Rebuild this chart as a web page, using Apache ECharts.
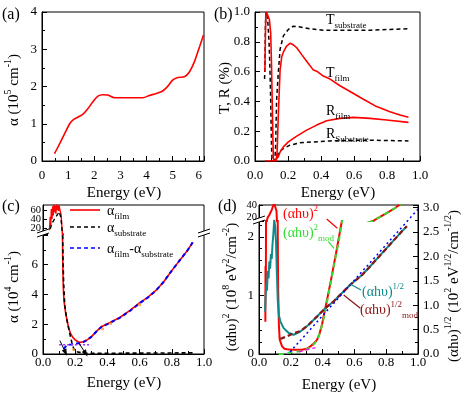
<!DOCTYPE html>
<html><head><meta charset="utf-8">
<script src="https://cdn.jsdelivr.net/npm/echarts@6/dist/echarts.min.js"></script>
<style>html,body{margin:0;padding:0;background:#fff}#c{width:463px;height:393px}</style>
</head><body><div id="c"></div>
<script>
const F = 'Liberation Serif';

// ---------- panel (a) ----------
const aEnergy = [0.48,0.68,0.87,1.06,1.18,1.38,1.57,1.76,1.95,2.14,2.33,2.52,2.78,3.1,3.48,3.86,4.11,4.37,4.62,4.82,5.0,5.2,5.45,5.64,5.83,6.03,6.18];
const aAlpha  = [0.2,0.47,0.74,1.0,1.1,1.18,1.26,1.41,1.59,1.74,1.78,1.77,1.70,1.70,1.70,1.70,1.76,1.81,1.88,2.01,2.17,2.24,2.26,2.39,2.66,3.07,3.38];

// ---------- panel (b) ----------
const bTfilm = [[0.06,0.6],[0.065,0.97],[0.07,1.0],[0.078,0.99],[0.087,0.95],[0.095,0.86],[0.1,0.65],[0.106,0.3],[0.111,0.02],[0.115,0],[0.128,0],[0.134,0.06],[0.141,0.3],[0.152,0.61],[0.162,0.7],[0.172,0.73],[0.19,0.77],[0.212,0.79],[0.232,0.78],[0.253,0.76],[0.283,0.714],[0.313,0.67],[0.354,0.61],[0.378,0.6],[0.414,0.57],[0.455,0.55],[0.515,0.505],[0.576,0.466],[0.657,0.414],[0.737,0.365],[0.818,0.331],[0.879,0.309],[0.93,0.293]];
const bRfilm = [[0.06,0],[0.1,0],[0.12,0.004],[0.13,0.01],[0.141,0.027],[0.152,0.06],[0.172,0.095],[0.202,0.128],[0.253,0.167],[0.313,0.207],[0.374,0.241],[0.434,0.27],[0.515,0.286],[0.596,0.293],[0.697,0.286],[0.798,0.275],[0.93,0.259]];
const bTsub = [[0.058,0.55],[0.06,0.63],[0.063,0.9],[0.067,1.0],[0.072,0.98],[0.078,0.93],[0.085,0.8],[0.09,0.64],[0.095,0.41],[0.1,0.1],[0.103,0.02],[0.105,0],[0.12,0],[0.125,0.1],[0.131,0.41],[0.141,0.59],[0.152,0.75],[0.172,0.84],[0.202,0.883],[0.232,0.905],[0.273,0.9],[0.333,0.887],[0.414,0.878],[0.556,0.878],[0.7,0.878],[0.82,0.883],[0.93,0.887]];
const bRsub = [[0.105,0],[0.12,0.005],[0.13,0.02],[0.141,0.05],[0.155,0.07],[0.172,0.083],[0.212,0.106],[0.273,0.122],[0.354,0.128],[0.455,0.135],[0.657,0.14],[0.93,0.135]];

// ---------- panel (c) ----------
const cFilm = [[0.04,15],[0.045,45],[0.048,25],[0.052,62],[0.056,40],[0.06,68],[0.064,48],[0.068,72],[0.072,55],[0.076,70],[0.08,52],[0.084,72],[0.088,60],[0.092,72],[0.096,58],[0.1,70],[0.104,62],[0.108,66],[0.112,50],[0.116,30],[0.12,9],[0.123,6],[0.126,4.5],[0.13,3.6],[0.14,2.8],[0.15,2.2],[0.16,1.75],[0.17,1.4],[0.185,1.12],[0.2,0.95],[0.215,0.84],[0.23,0.78],[0.25,0.82],[0.27,0.92],[0.3,1.15],[0.335,1.55],[0.366,1.85],[0.39,1.98],[0.417,2.12],[0.45,2.3],[0.479,2.47],[0.541,2.93],[0.593,3.38],[0.65,3.8],[0.7,4.25],[0.75,4.85],[0.8,5.6],[0.85,6.3],[0.9,7.0],[0.93,7.5]];
const cSubstrate = [[0.045,18],[0.05,24],[0.055,30],[0.06,28],[0.065,36],[0.07,40],[0.075,38],[0.08,45],[0.085,48],[0.09,50],[0.095,54],[0.1,56],[0.105,52],[0.11,45],[0.115,30],[0.12,10],[0.124,6.5],[0.128,4.8],[0.135,3.3],[0.145,2.5],[0.159,1.74],[0.17,1.2],[0.18,0.74],[0.19,0.4],[0.2,0.18],[0.21,0.06],[0.25,0.05],[0.4,0.05],[0.6,0.06],[0.8,0.07],[0.93,0.08]];
const cDiff = [[0.128,0.35],[0.14,0.5],[0.155,0.6],[0.17,0.63],[0.19,0.66],[0.21,0.7],[0.23,0.74],[0.25,0.8],[0.27,0.92],[0.3,1.15],[0.335,1.55],[0.366,1.85],[0.39,1.95],[0.417,2.1],[0.45,2.28],[0.479,2.45],[0.541,2.9],[0.593,3.35],[0.65,3.78],[0.7,4.25],[0.75,4.85],[0.8,5.6],[0.85,6.3],[0.9,7.0],[0.93,7.5]];
const cLevel = [[0.1,0.62],[0.3,0.62]];
const cOrange = [[0.19,0.3],[0.37,1.7],[0.42,2.05],[0.6,3.3]];
const cArrow1 = [[0.105,0.9],[0.14,0.1]];
const cArrow2 = [[0.225,0.7],[0.265,0.03]];
const cUpperTicks = [20,40,60];

// ---------- panel (d) ----------
const dSq = [[0.04,0.55],[0.041,1.5],[0.043,1.1],[0.045,3],[0.048,6],[0.05,14],[0.055,19],[0.06,21],[0.065,23],[0.07,26],[0.075,25],[0.08,32],[0.085,35],[0.09,40],[0.095,44],[0.1,46],[0.105,44],[0.11,30],[0.113,12],[0.116,3],[0.12,1.2],[0.125,0.5],[0.13,0.25],[0.145,0.13],[0.16,0.09],[0.176,0.08],[0.207,0.073],[0.27,0.073],[0.3,0.09],[0.323,0.13],[0.345,0.18],[0.365,0.24],[0.38,0.34],[0.396,0.5],[0.417,0.78],[0.438,1.06],[0.459,1.35],[0.49,1.8],[0.523,2.3],[0.56,3.2],[0.6,4.5],[0.65,7],[0.7,11],[0.72,13],[0.75,18],[0.8,26],[0.85,34],[0.88,40],[0.93,48]];
const dSqMod = [[0.124,0],[0.15,0],[0.207,0.03],[0.27,0.05],[0.3,0.08],[0.333,0.13],[0.355,0.2],[0.375,0.3],[0.392,0.45],[0.407,0.61],[0.428,0.9],[0.449,1.18],[0.47,1.5],[0.5,1.9],[0.525,2.3],[0.56,3.2],[0.6,4.5],[0.65,7],[0.7,11],[0.72,13],[0.75,18],[0.8,26],[0.85,34],[0.88,40],[0.93,48]];
const dTangent = [[0.25,0.035],[0.355,0.11]];
const dSqrt = [[0.038,0.87],[0.042,1.2],[0.046,1.45],[0.05,1.3],[0.055,1.7],[0.06,1.55],[0.065,1.9],[0.07,1.75],[0.075,2.05],[0.08,1.95],[0.085,2.25],[0.09,2.45],[0.096,2.75],[0.102,2.6],[0.107,2.3],[0.112,1.7],[0.118,1.1],[0.125,0.8],[0.134,0.67],[0.155,0.53],[0.187,0.43],[0.218,0.395],[0.26,0.46],[0.312,0.6],[0.365,0.77],[0.417,0.94],[0.47,1.08],[0.522,1.25],[0.574,1.42],[0.648,1.62],[0.7,1.8],[0.75,1.98],[0.8,2.16],[0.85,2.34],[0.9,2.52],[0.93,2.62]];
const dSqrtMod = [[0.134,0.31],[0.15,0.33],[0.176,0.36],[0.207,0.41],[0.218,0.42],[0.26,0.47],[0.312,0.6],[0.365,0.77],[0.417,0.94],[0.47,1.08],[0.522,1.25],[0.574,1.42],[0.648,1.62],[0.7,1.8],[0.75,1.98],[0.8,2.16],[0.85,2.34],[0.9,2.52],[0.93,2.62]];
const dFit = [[0.195,0.04],[1.0,2.97]];
const dUpperTicks = [20,40];

// ---------- helpers ----------
const zip = (xs, ys) => xs.map((x, i) => [x, ys[i]]);
const fmtStep = (step, dec, maxV) => v => {
  const k = v / step;
  if (Math.abs(k - Math.round(k)) > 1e-6 || v > maxV + 1e-9) return '';
  return dec ? v.toFixed(dec) : String(Math.round(v));
};
const BLK = {color:'#000', width:1};
function axis(gridIndex, min, max, interval, minorSplit, fmt, labelMargin, position) {
  return {
    type:'value', gridIndex, min, max, interval, position,
    splitLine:{show:false},
    axisLine:{show:true, onZero:false, lineStyle:BLK},
    axisTick:{show:true, inside:true, length:5, lineStyle:BLK},
    minorTick:{show:true, splitNumber:minorSplit, length:3, lineStyle:BLK},
    minorSplitLine:{show:false},
    axisLabel:{show:true, hideOverlap:false, color:'#000', fontFamily:F, fontSize:13, margin:labelMargin, formatter:fmt}
  };
}
// top part of a broken axis: ticks from the library, labels placed from the same scale below
function breakAxis(gridIndex, min, max, ticks, splitNumber) {
  return {
    type:'value', gridIndex, min, max, splitNumber,
    splitLine:{show:false},
    axisLine:{show:true, onZero:false, lineStyle:BLK},
    axisTick:{show:true, inside:true, length:4, lineStyle:BLK, customValues:ticks},
    minorTick:{show:false},
    axisLabel:{show:false}
  };
}
const hidden = (gridIndex) => ({type:'value', gridIndex, min:0, max:1, show:false});
const ln = (xi, yi, data, color, width, type, z) => ({
  type:'line', xAxisIndex:xi, yAxisIndex:yi, data, showSymbol:false, symbol:'none',
  lineStyle:{color, width, type: type || 'solid'}, clip:true, silent:true, z: z || 2, animation:false
});
// part of a curve that lies inside the noisy, broken-axis top region
const noisy = arr => arr.filter(p => p[0] <= 0.13);

const grids = [
  {left:42, top:12, width:162, height:149, show:true, borderColor:'#000', borderWidth:1, backgroundColor:'transparent'},
  {left:255, top:12, width:165, height:149, show:true, borderColor:'#000', borderWidth:1, backgroundColor:'transparent'},
  {left:43, top:205, width:161, height:29},
  {left:43, top:234, width:161, height:120},
  {left:43, top:205, width:161, height:149, show:true, borderColor:'#000', borderWidth:1, backgroundColor:'transparent'},
  {left:259, top:205, width:159, height:16},
  {left:259, top:221, width:159, height:133},
  {left:259, top:205, width:159, height:149, show:true, borderColor:'#000', borderWidth:1, backgroundColor:'transparent'}
].map(g => Object.assign({outerBoundsMode:'none', containLabel:false}, g));

const xAxes = [
  axis(0, 0, 6.2, 1, 2, fmtStep(1, 0, 6), 8),
  axis(1, 0, 1, 0.2, 2, fmtStep(0.2, 1, 1), 8),
  hidden(2),
  axis(3, 0, 1, 0.2, 2, fmtStep(0.2, 1, 1), 2),
  hidden(4),
  hidden(5),
  axis(6, 0, 1, 0.2, 2, fmtStep(0.2, 1, 1), 2),
  hidden(7)
];
const yAxes = [
  axis(0, 0, 4, 1, 2, fmtStep(1, 0, 4), 5),
  axis(1, 0, 1, 0.2, 2, fmtStep(0.2, 1, 1), 5),
  breakAxis(2, 6.7, 71.1, cUpperTicks, 3),
  axis(3, 0, 8.06, 2, 2, fmtStep(2, 0, 6), 5),
  hidden(4),
  breakAxis(5, 12.6, 40.5, dUpperTicks, 1),
  axis(6, 0, 2.27, 1, 5, fmtStep(1, 0, 2), 5),
  axis(7, 0, 3.055, 0.5, 2, fmtStep(0.5, 1, 3), 5, 'right')
];

const RED = '#ff0000', GREEN = '#33dd33', TEAL = '#0e8a8a', DRED = '#8b1414', BLUE = '#0000ff';
const series = [
  Object.assign(ln(0, 0, zip(aEnergy, aAlpha), RED, 1.6), {smooth:0.3}),
  ln(1, 1, bTsub, '#000', 1.5, [4, 3]),
  ln(1, 1, bRsub, '#000', 1.5, [4, 3]),
  ln(1, 1, bTfilm, RED, 1.6),
  ln(1, 1, bRfilm, RED, 1.6),
  // (c) upper (broken-axis part)
  ln(2, 2, noisy(cFilm), RED, 1.4),
  ln(2, 2, noisy(cSubstrate), '#000', 1.4, [4, 3]),
  // (c) lower
  ln(3, 3, cFilm, RED, 1.6),
  Object.assign(ln(3, 3, cSubstrate, '#000', 1.6, [4, 3]), {
    markLine:{silent:true, animation:false, symbol:['none','triangle'], symbolSize:[5,7],
      label:{show:false}, lineStyle:{color:'#000', width:1, type:'solid'},
      data:[[{coord:cArrow1[0]},{coord:cArrow1[1]}],[{coord:cArrow2[0]},{coord:cArrow2[1]}]]}
  }),
  ln(3, 3, cDiff, BLUE, 2, [4, 3]),
  ln(3, 3, cLevel, '#9933ff', 1.4, [2, 2]),
  {type:'scatter', xAxisIndex:3, yAxisIndex:3, data:cOrange, symbolSize:3, itemStyle:{color:'#ff8c1a'}, silent:true, animation:false},
  // (d) upper-left
  ln(5, 5, dSq, RED, 2),
  ln(5, 5, dSqMod, GREEN, 2, [5, 4]),
  // (d) lower-left
  ln(6, 6, dSq, RED, 2),
  ln(6, 6, dSqMod, GREEN, 2, [5, 4]),
  ln(6, 6, dTangent, '#ff00ff', 1.3, [4, 3]),
  // (d) right axis
  ln(7, 7, dSqrt, TEAL, 2),
  ln(7, 7, dSqrtMod, DRED, 2.2, [5, 3]),
  ln(7, 7, dFit, BLUE, 1.5, [2, 3])
];

// ---------- text helpers ----------
function rich(base, col) {
  const s = Math.round(base * 0.64);
  return {
    b:{fontSize:base, fontFamily:F, fill:col, lineHeight:base + 6},
    sp:{fontSize:s, fontFamily:F, fill:col, verticalAlign:'top', lineHeight:s + 1},
    sb:{fontSize:s, fontFamily:F, fill:col, verticalAlign:'bottom', lineHeight:s + 1}
  };
}
function txt(x, y, text, opt) {
  opt = opt || {};
  const base = opt.size || 15, col = opt.color || '#000';
  return {type:'text', x, y, rotation: opt.rot || 0, z:60, silent:true,
    style:{text, rich:rich(base, col), fontSize:base, fontFamily:F, fill:col,
      align: opt.align || 'left', verticalAlign:'middle'}};
}
function seg(x1, y1, x2, y2, color, w, dash) {
  return {type:'line', z:60, silent:true, shape:{x1, y1, x2, y2},
    style:{stroke:color, lineWidth:w || 1, lineDash: dash || null}};
}
function brk(x, y) {
  return [
    {type:'polygon', z:55, silent:true, shape:{points:[[x-6,y+1],[x+6,y-3],[x+6,y+1],[x-6,y+5]]}, style:{fill:'#fff'}},
    seg(x-6, y+1, x+6, y-3, '#000', 1),
    seg(x-6, y+5, x+6, y+1, '#000', 1)
  ];
}
const R90 = Math.PI / 2;
const graphics = [
  txt(2, 15, '{b|(a)}', {size:16}),
  txt(214, 15, '{b|(b)}', {size:16}),
  txt(2, 207, '{b|(c)}', {size:16}),
  txt(218, 207, '{b|(d)}', {size:16}),
  txt(14, 90, '{b|α (10}{sp|5}{b| cm}{sp|-1}{b|)}', {rot:R90, align:'center'}),
  txt(225, 88, '{b|T, R (%)}', {rot:R90, align:'center'}),
  txt(14, 287, '{b|α (10}{sp|4}{b| cm}{sp|-1}{b|)}', {rot:R90, align:'center'}),
  txt(232, 287, '{b|(αhυ)}{sp|2}{b| (10}{sp|8}{b| eV}{sp|2}{b|/cm}{sp|-2}{b|)}', {rot:R90, align:'center'}),
  txt(454, 286, '{b|(αhυ)}{sp|1/2}{b| (10}{sp|2}{b| eV}{sp|1/2}{b|/cm}{sp|-1/2}{b|)}', {rot:R90, align:'center'}),
  txt(124, 193, '{b|Energy (eV)}', {align:'center'}),
  txt(338, 193, '{b|Energy (eV)}', {align:'center'}),
  txt(124, 383, '{b|Energy (eV)}', {align:'center'}),
  txt(339, 385, '{b|Energy (eV)}', {align:'center'}),
  // (b) annotations
  txt(326, 20, '{b|T}{sb|substrate}', {size:14}),
  txt(326, 73, '{b|T}{sb|film}', {size:14}),
  txt(326, 111, '{b|R}{sb|film}', {size:14}),
  txt(326, 134, '{b|R}{sb|Substrate}', {size:14}),
  // (c) legend
  seg(70, 210, 100, 210, RED, 1.6),
  seg(70, 227, 100, 227, '#000', 1.6, [4, 3]),
  seg(70, 248, 100, 248, BLUE, 1.6, [4, 3]),
  txt(107, 211, '{b|α}{sb|film}', {size:14}),
  txt(107, 228, '{b|α}{sb|substrate}', {size:14}),
  txt(107, 249, '{b|α}{sb|film}{b|-α}{sb|substrate}', {size:14}),
  // (d) annotations
  txt(283, 214, '{b|(αhυ)}{sp|2}', {size:14, color:RED}),
  txt(283, 233, '{b|(αhυ)}{sp|2}{sb|mod}', {size:14, color:GREEN}),
  txt(362, 292, '{b|(αhυ)}{sp|1/2}', {size:14, color:TEAL}),
  txt(360, 310, '{b|(αhυ)}{sp|1/2}{sb|mod}', {size:14, color:DRED}),
  seg(326.7, 219, 337.3, 228.3, RED, 1.2),
  seg(328.3, 241.7, 334, 248.3, GREEN, 1.2),
  seg(350, 284, 361, 290, TEAL, 1.2),
  seg(343.7, 295, 360.3, 308.3, DRED, 1.2),
  ...brk(43, 232), ...brk(204, 232), ...brk(259, 219)
];

const chart = echarts.init(document.getElementById('c'), null, {renderer:'canvas'});
chart.setOption({
  animation:false,
  backgroundColor:'#fff',
  textStyle:{fontFamily:F},
  grid:grids, xAxis:xAxes, yAxis:yAxes, series, graphic:graphics
});

// tick labels of the broken (upper) axis parts, positioned through the library's own scales
function breakLabels(gridIndex, ticks) {
  return ticks.map(v => {
    const p = chart.convertToPixel({gridIndex}, [0, v]);
    return {type:'text', x:p[0] - 2, y:p[1], z:60, silent:true,
      style:{text:String(v), fontSize:10.5, fontFamily:F, fill:'#000', align:'right', verticalAlign:'middle'}};
  });
}
chart.setOption({graphic: graphics.concat(breakLabels(2, cUpperTicks), breakLabels(5, dUpperTicks))});
</script></body></html>
